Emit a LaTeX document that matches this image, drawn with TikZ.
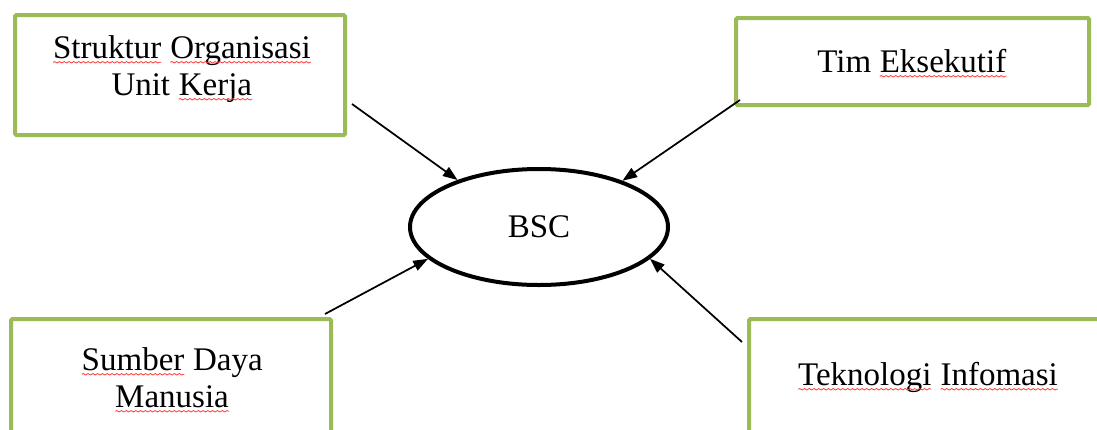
\documentclass[tikz,border=0pt]{standalone}
\usepackage{fontspec}
\setmainfont{Liberation Serif}
\usetikzlibrary{shapes.geometric,arrows.meta,decorations.pathmorphing}
\definecolor{boxgreen}{HTML}{9BBB59}
\definecolor{squig}{HTML}{FF3B3B}
\newcommand\wavy[1]{\tikz[baseline=(w.base)]{\node[inner sep=0pt,outer sep=0pt] (w) {#1};\draw[squig,line width=0.6pt,decorate,decoration={snake,amplitude=0.55pt,segment length=3.6pt}] ([yshift=-3.2pt]w.base west) -- ([yshift=-3.2pt]w.base east);}}
\begin{document}
\begin{tikzpicture}[x=0.75pt,y=-0.75pt,
  box/.style={draw=boxgreen,line width=3pt,rounded corners=1pt,rectangle,inner sep=0pt},
  lbl/.style={font=\fontsize{24.75}{29}\selectfont,anchor=base,inner sep=0pt},
  arr/.style={-{Triangle[length=11pt,width=8pt]},line width=1.3pt}]
\path[use as bounding box,clip] (0,0) rectangle (1097,429);
\node[box,minimum width=247.5pt,minimum height=90pt] (b1) at (180,75) {};
\node[box,minimum width=264.75pt,minimum height=65.25pt] (b2) at (912.5,61.5) {};
\node[box,minimum width=240pt,minimum height=94.5pt] (b3) at (171,382) {};
\node[box,minimum width=267.75pt,minimum height=94.5pt] (b4) at (927.5,382) {};
\node[lbl] (t1a) at (182,58) {\wavy{Struktur} \wavy{Organisasi}};
\node[lbl] (t1b) at (182,95) {Unit \wavy{Kerja}};
\node[lbl] (t2) at (912,72) {Tim \wavy{Eksekutif}};
\node[lbl] (t3a) at (172,370) {\wavy{Sumber} Daya};
\node[lbl] (t3b) at (172,407) {\wavy{Manusia}};
\node[lbl] (t4) at (928,385) {\wavy{Teknologi} \wavy{Infomasi}};
\node[ellipse,draw,line width=3pt,minimum width=193.5pt,minimum height=87pt,inner sep=0pt,font=\fontsize{24.75}{29}\selectfont] (bsc) at (539,227) {BSC};
\coordinate (s1) at (352,104);
\coordinate (s2) at (740,100);
\coordinate (s3) at (325,314);
\coordinate (s4) at (742,342);
\draw[arr] (s1) -- (bsc.150.6);
\draw[arr] (s2) -- (bsc.29.7);
\draw[arr] (s3) -- (bsc.196.4);
\draw[arr] (s4) -- (bsc.-16.8);
\end{tikzpicture}
\end{document}
